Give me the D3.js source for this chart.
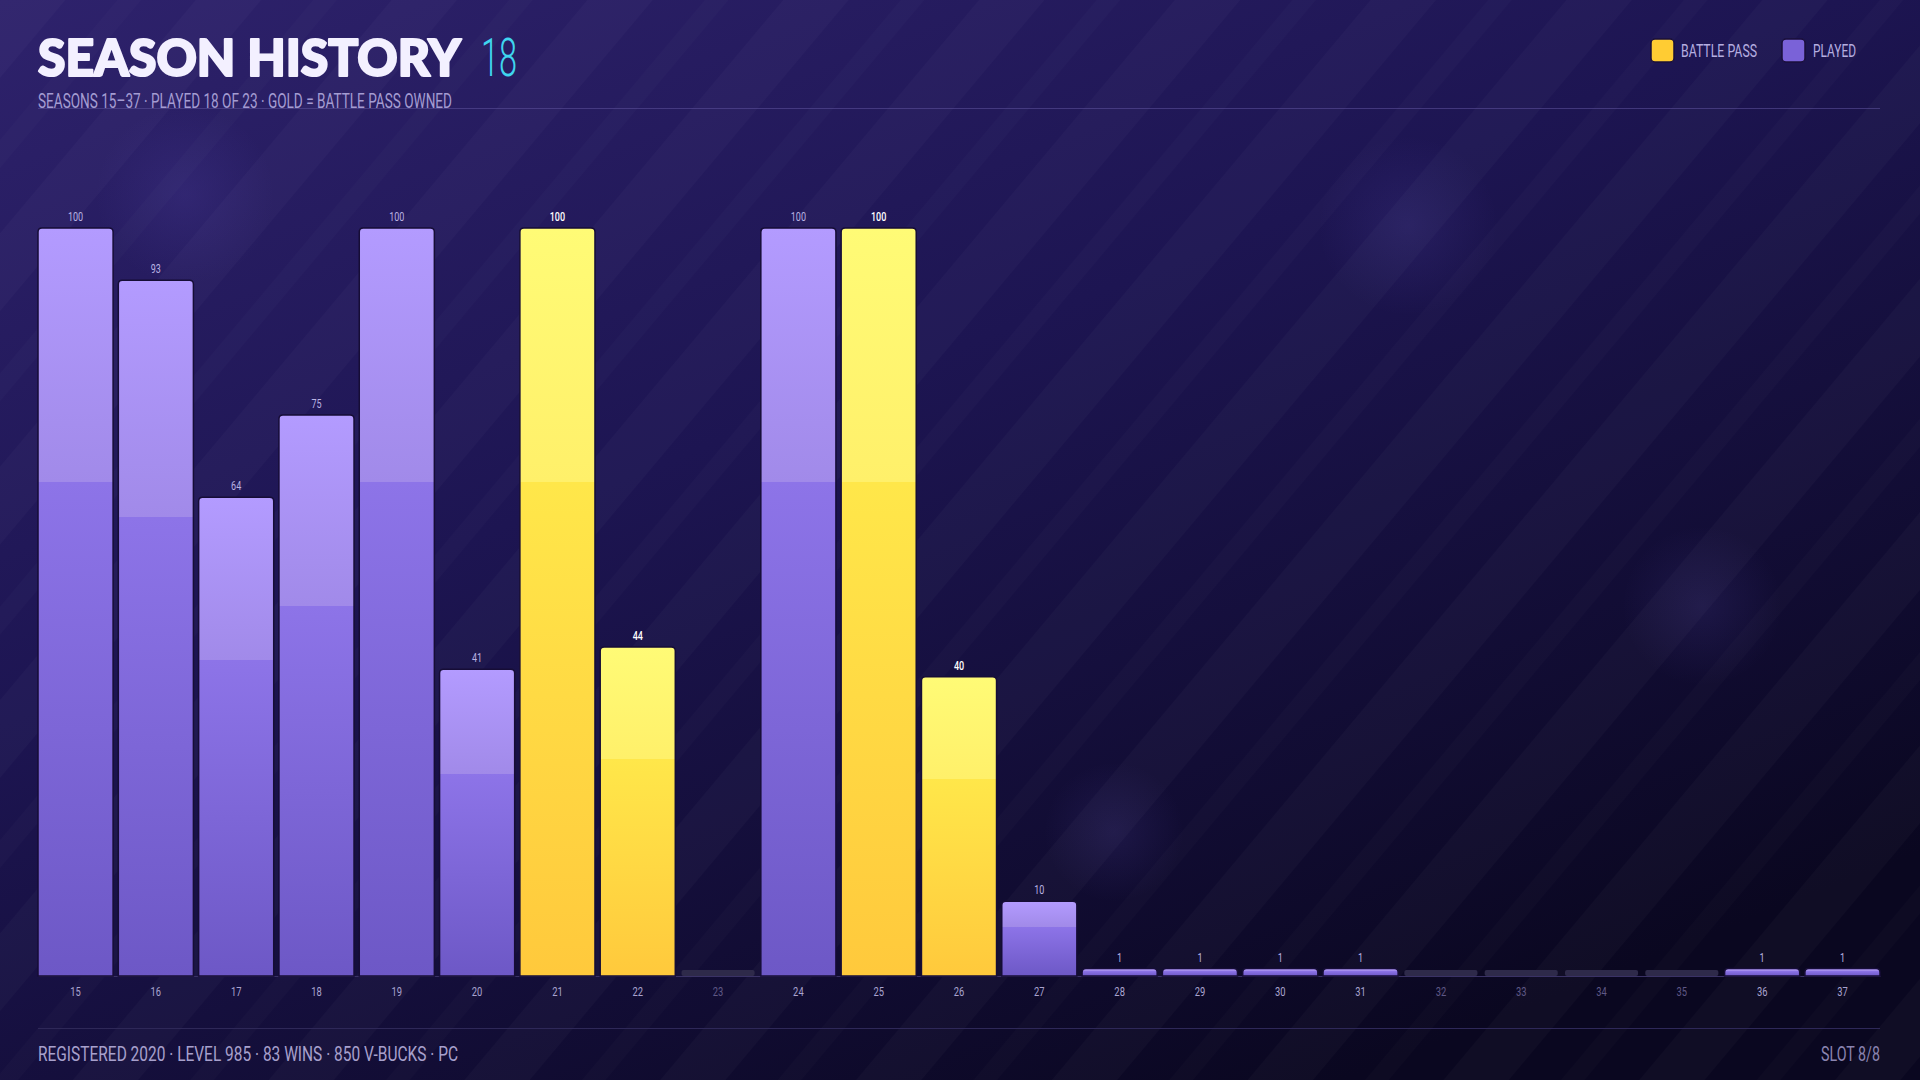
<!DOCTYPE html>
<html>
<head>
<meta charset="utf-8">
<script src="https://cdn.jsdelivr.net/npm/d3@7"></script>
<style>
html,body{margin:0;padding:0;background:#140e34;}
svg{display:block;}
</style>
</head>
<body>
<svg id="chart" width="1920" height="1080"></svg>
<script>
// ---- data ----
const seasons = ["15","16","17","18","19","20","21","22","23","24","25","26","27","28","29","30","31","32","33","34","35","36","37"];
const values  = [100,93,64,75,100,41,100,44,0,100,100,40,10,1,1,1,1,0,0,0,0,1,1];
const battlePass = [false,false,false,false,false,false,true,true,false,false,true,true,false,false,false,false,false,false,false,false,false,false,false];
const titleText = "SEASON HISTORY";
const titleCount = "18";
const subtitleText = "SEASONS 15–37  ·  PLAYED 18 OF 23  ·  GOLD = BATTLE PASS OWNED";
const footerLeft = "REGISTERED 2020  ·  LEVEL 985  ·  83 WINS  ·  850 V-BUCKS  ·  PC";
const footerRight = "SLOT 8/8";
const legendItems = ["BATTLE PASS","PLAYED"];

const W = 1920, H = 1080;
const svg = d3.select("#chart");
const defs = svg.append("defs");
const cond = "Roboto,'DejaVu Sans',sans-serif";

// squeeze text horizontally to mimic a condensed face
function condense(sel, factor){
  sel.each(function(){
    const len = this.getComputedTextLength();
    d3.select(this).attr("textLength", len*factor).attr("lengthAdjust","spacingAndGlyphs");
  });
}

// background gradient
const bg = defs.append("linearGradient").attr("id","bg").attr("x1","0").attr("y1","0").attr("x2","0.7").attr("y2","1");
bg.append("stop").attr("offset","0").attr("stop-color","#2e226c");
bg.append("stop").attr("offset","0.45").attr("stop-color","#1d1552");
bg.append("stop").attr("offset","1").attr("stop-color","#0a0720");
svg.append("rect").attr("width",W).attr("height",H).attr("fill","url(#bg)");

// stripes
const pat = defs.append("pattern").attr("id","stripes").attr("patternUnits","userSpaceOnUse")
  .attr("width",150).attr("height",150).attr("patternTransform","rotate(40)");
pat.append("rect").attr("x",0).attr("y",0).attr("width",50).attr("height",150).attr("fill","#ffffff").attr("opacity",0.025);
pat.append("rect").attr("x",90).attr("y",0).attr("width",18).attr("height",150).attr("fill","#ffffff").attr("opacity",0.015);
svg.append("rect").attr("width",W).attr("height",H).attr("fill","url(#stripes)");

// soft glows
const glow = defs.append("radialGradient").attr("id","glow");
glow.append("stop").attr("offset","0").attr("stop-color","#8a78ff").attr("stop-opacity",0.10);
glow.append("stop").attr("offset","1").attr("stop-color","#8a78ff").attr("stop-opacity",0);
[[185,195,90],[1408,226,90],[1702,606,80],[1114,832,70]].forEach(g=>{
  svg.append("circle").attr("cx",g[0]).attr("cy",g[1]).attr("r",g[2]).attr("fill","url(#glow)");
});

// bar gradients
function barGrad(id, c0, c1, c2, c3){
  const g = defs.append("linearGradient").attr("id",id).attr("x1",0).attr("y1",0).attr("x2",0).attr("y2",1);
  g.append("stop").attr("offset","0").attr("stop-color",c0);
  g.append("stop").attr("offset","0.34").attr("stop-color",c1);
  g.append("stop").attr("offset","0.34").attr("stop-color",c2);
  g.append("stop").attr("offset","1").attr("stop-color",c3);
}
barGrad("gPurple","#b39bff","#a18ae9","#8d74e8","#6d58c6");
barGrad("gGold","#fffb76","#fff06a","#ffe74a","#ffc93c");

// header
svg.append("text").attr("x",38).attr("y",76).text(titleText)
  .attr("font-family","Lato,Inter,'DejaVu Sans',sans-serif").attr("font-weight",900)
  .attr("font-size",52).attr("fill","#f3f0ff")
  .attr("stroke","#f3f0ff").attr("stroke-width",2.2).attr("stroke-linejoin","round")
  .attr("textLength",423).attr("lengthAdjust","spacingAndGlyphs");
svg.append("text").attr("x",481).attr("y",76).text(titleCount)
  .attr("font-family",cond).attr("font-weight",300).attr("font-size",53).attr("fill","#3fd6ef")
  .attr("textLength",36).attr("lengthAdjust","spacingAndGlyphs");
svg.append("line").attr("x1",38).attr("x2",1880).attr("y1",108.5).attr("y2",108.5)
  .attr("stroke","#5a4f98").attr("stroke-opacity",0.6).attr("stroke-width",1);
svg.append("text").attr("x",38).attr("y",108).text(subtitleText)
  .attr("font-family",cond).attr("font-size",20).attr("fill","#a49cd2")
  .attr("textLength",414).attr("lengthAdjust","spacingAndGlyphs");

// legend
const legend = svg.append("g");
const legX = [1651, 1782], legTextX = [1681, 1813], legW = [76, 43];
const legCol = ["#ffcc33","#7a62d8"];
legendItems.forEach((t,i)=>{
  legend.append("rect").attr("x",legX[i]).attr("y",39).attr("width",23).attr("height",23).attr("rx",4)
    .attr("fill",legCol[i]).attr("stroke","#1a0f3a").attr("stroke-width",1.5);
  legend.append("text").attr("x",legTextX[i]).attr("y",57).text(t)
    .attr("font-family",cond).attr("font-size",19).attr("fill","#b5aee0")
    .attr("textLength",legW[i]).attr("lengthAdjust","spacingAndGlyphs");
});

// scales
const x = d3.scaleBand().domain(seasons).range([38,1880]).paddingInner(0.065).paddingOuter(0);
const y = d3.scaleLinear().domain([0,100]).range([976,228]);

// axis
const axis = svg.append("g").attr("transform","translate(0,976)")
  .call(d3.axisBottom(x).tickSize(0).tickPadding(11));
axis.select(".domain").attr("stroke","#3a3266").attr("stroke-width",1);
axis.selectAll(".tick text")
  .attr("font-family",cond).attr("font-size",13)
  .attr("fill",(d)=> values[seasons.indexOf(d)] === 0 ? "#5f5886" : "#a9a3cf")
  .call(condense, 0.72);

// bars
const data = seasons.map((s,i)=>({s, v: values[i], bp: battlePass[i]}));
const bars = svg.append("g");
function barPath(x0, y0, w, h, r){
  r = Math.min(r, h/2, w/2);
  return `M${x0},${y0+h}V${y0+r}Q${x0},${y0} ${x0+r},${y0}H${x0+w-r}Q${x0+w},${y0} ${x0+w},${y0+r}V${y0+h}Z`;
}
bars.selectAll("path.bar").data(data.filter(d=>d.v>0)).join("path").attr("class","bar")
  .attr("d",d=>barPath(x(d.s), y(d.v), x.bandwidth(), y(0)-y(d.v), 4))
  .attr("fill",d=> d.bp ? "url(#gGold)" : "url(#gPurple)")
  .attr("stroke","#160d36").attr("stroke-width",1.5);
// empty seasons stubs
bars.selectAll("rect.stub").data(data.filter(d=>d.v===0)).join("rect").attr("class","stub")
  .attr("x",d=>x(d.s)+1).attr("y",y(0)-6).attr("width",x.bandwidth()-2).attr("height",6).attr("rx",2)
  .attr("fill","#2e2a4a");

// value labels
bars.selectAll("text.val").data(data.filter(d=>d.v>0)).join("text").attr("class","val")
  .attr("x",d=>x(d.s)+x.bandwidth()/2).attr("y",d=>y(d.v)-7)
  .attr("text-anchor","middle").attr("font-family",cond).attr("font-size",12.5)
  .attr("font-weight",d=>d.bp?500:400)
  .attr("fill",d=>d.bp ? "#ffffff" : "#b9b2e2")
  .text(d=>d.v)
  .call(condense, 0.72);

// footer
svg.append("line").attr("x1",38).attr("x2",1880).attr("y1",1028.5).attr("y2",1028.5)
  .attr("stroke","#2e2858").attr("stroke-width",1);
svg.append("text").attr("x",38).attr("y",1061).text(footerLeft)
  .attr("font-family",cond).attr("font-size",21).attr("fill","#a7a0cc")
  .attr("textLength",420).attr("lengthAdjust","spacingAndGlyphs");
svg.append("text").attr("x",1880).attr("y",1061).attr("text-anchor","end").text(footerRight)
  .attr("font-family",cond).attr("font-size",21).attr("fill","#8a84b0")
  .attr("textLength",59).attr("lengthAdjust","spacingAndGlyphs");
</script>
</body>
</html>
